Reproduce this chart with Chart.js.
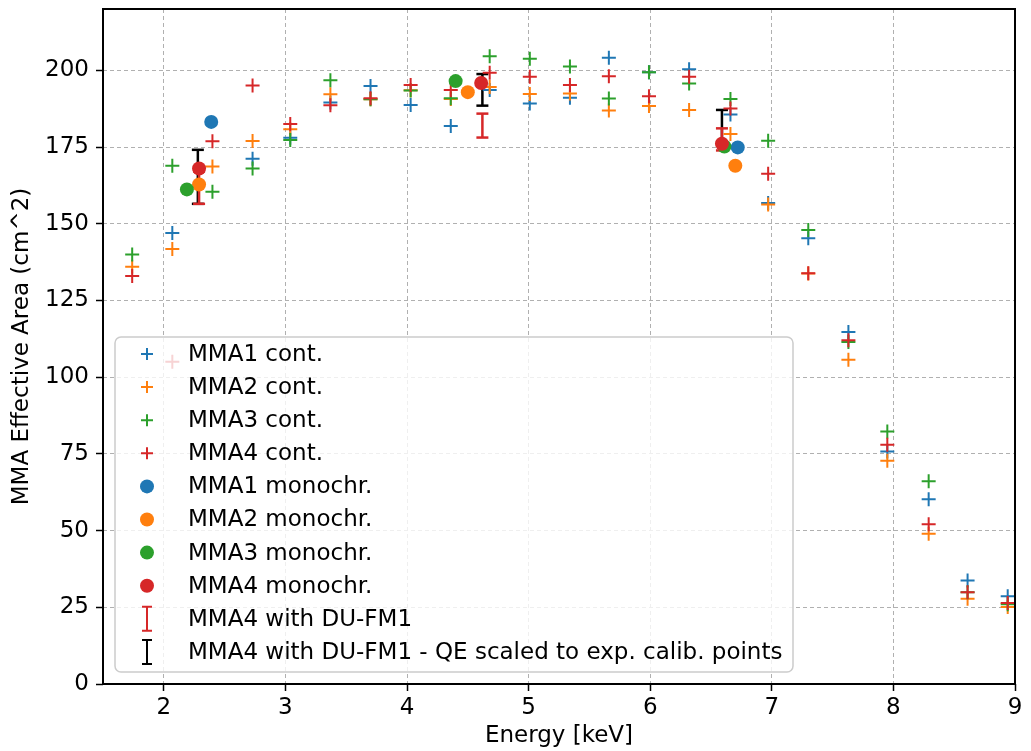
<!DOCTYPE html>
<html>
<head>
<meta charset="utf-8">
<title>MMA Effective Area</title>
<script src="https://cdn.jsdelivr.net/npm/chart.js@4.4.1/dist/chart.umd.min.js"></script>
<style>
  html, body { margin: 0; padding: 0; background: #fff; }
  #wrap { width: 1031px; height: 751px; }
</style>
</head>
<body>
<div id="wrap"><canvas id="myChart" width="1031" height="751"></canvas></div>
<script>
// energies of the continuum measurements [keV]
const energy = [1.74, 2.07, 2.40, 2.73, 3.04, 3.37, 3.70, 4.03, 4.36, 4.68, 5.01, 5.34,
  5.66, 5.99, 6.32, 6.66, 6.97, 7.30, 7.63, 7.95, 8.29, 8.61, 8.94];

const mma1Cont = [null, 147.0, null, 171.2, 178.0, 189.5, 194.9, 188.7, 181.9, 193.6, 189.2, 191.1,
  204.1, 199.4, 200.4, 185.6, 156.8, 145.3, 114.7, 75.8, 60.2, 33.7, 28.6];
const mma2Cont = [136.0, 141.8, 168.7, 177.0, 180.8, 192.2, 190.6, 193.5, 190.7, 194.6, 192.3, 192.5,
  186.9, 188.4, 187.1, 179.3, 156.3, 133.8, 105.7, 72.8, 49.0, 27.8, 25.1];
const mma3Cont = [140.0, 168.9, 160.4, 168.0, 177.3, 196.8, 190.6, 193.4, 190.9, 204.6, 203.8, 201.3,
  190.8, 199.4, 195.7, 190.7, 177.1, 148.0, 111.5, 82.3, 66.1, 29.9, 26.0];
const mma4Cont = [133.0, 105.0, 176.9, 195.1, 182.5, 188.6, 190.9, 195.2, 193.6, 199.2, 197.9, 195.2,
  198.1, 191.6, 197.9, 187.6, 166.3, 133.9, 112.0, 78.0, 52.1, 29.9, 26.4];

// monochromatic calibration points
const mma1MonoX = [2.39, 6.72];
const mma1MonoY = [183.2, 174.9];
const mma2MonoX = [2.29, 4.50, 6.70];
const mma2MonoY = [162.8, 192.9, 168.9];
const mma3MonoX = [2.19, 4.40, 6.61];
const mma3MonoY = [161.2, 196.5, 175.2];
const mma4MonoX = [2.29, 4.61, 6.59];
const mma4MonoY = [168.0, 195.9, 176.1];

// MMA4 with DU-FM1 (error bars)
const fm1X = [2.29, 4.62, 6.59];
const fm1Low = [156.5, 178.1, 173.9];
const fm1High = [167.0, 185.9, 181.1];
const fm1QeX = [2.28, 4.62, 6.59];
const fm1QeLow = [156.5, 188.5, 176.7];
const fm1QeHigh = [174.1, 198.8, 187.1];

const xTicks = [2, 3, 4, 5, 6, 7, 8, 9];
const yTicks = [0, 25, 50, 75, 100, 125, 150, 175, 200];

const BLUE = "#1f77b4";
const ORANGE = "#ff7f0e";
const GREEN = "#2ca02c";
const RED = "#d62728";
const FONT = "DejaVu Sans";

function toPoints(xs, ys) {
  return xs.map((x, i) => ({ x: x, y: ys[i] }));
}

function errorBarPoints(xs, lows, highs) {
  const pts = [];
  xs.forEach((x, i) => {
    pts.push({ x: x, y: lows[i] }, { x: x, y: highs[i] }, { x: x, y: null });
  });
  return pts;
}

function contSet(label, ys, color, order) {
  return {
    label: label,
    kind: "cross",
    data: toPoints(energy, ys),
    pointStyle: "cross",
    pointRadius: 7,
    pointBorderWidth: 2,
    borderColor: color,
    backgroundColor: color,
    showLine: false,
    order: order,
  };
}

function monoSet(label, xs, ys, color, order) {
  return {
    label: label,
    kind: "dot",
    data: toPoints(xs, ys),
    pointStyle: "circle",
    pointRadius: 7,
    pointBorderWidth: 0,
    borderColor: color,
    backgroundColor: color,
    showLine: false,
    order: order,
  };
}

function errSet(label, xs, lows, highs, color, order) {
  return {
    label: label,
    kind: "bar",
    data: errorBarPoints(xs, lows, highs),
    showLine: true,
    spanGaps: false,
    borderColor: color,
    backgroundColor: color,
    borderWidth: 2.5,
    pointStyle: "line",
    pointRadius: 6,
    pointBorderWidth: 2.5,
    order: order,
  };
}

// frame + legend box in the matplotlib style
const boxLegend = {
  id: "boxLegend",
  afterDatasetsDraw(chart) {
    const { ctx, chartArea } = chart;
    ctx.save();
    ctx.strokeStyle = "#000";
    ctx.lineWidth = 2;
    ctx.strokeRect(chartArea.left, chartArea.top,
      chartArea.right - chartArea.left, chartArea.bottom - chartArea.top);

    const w = 678, h = 335;
    const x0 = chartArea.left + 12;
    const y0 = chartArea.bottom - 12 - h;
    ctx.beginPath();
    ctx.roundRect(x0, y0, w, h, 6);
    ctx.fillStyle = "rgba(255,255,255,0.8)";
    ctx.fill();
    ctx.strokeStyle = "#cccccc";
    ctx.lineWidth = 1.5;
    ctx.stroke();

    ctx.font = "23px '" + FONT + "'";
    ctx.textBaseline = "middle";
    const mx = x0 + 32;
    chart.data.datasets.forEach((ds, i) => {
      const cy = y0 + 17 + i * 33.1;
      ctx.strokeStyle = ds.borderColor;
      ctx.fillStyle = ds.borderColor;
      if (ds.kind === "cross") {
        ctx.lineWidth = 2;
        ctx.beginPath();
        ctx.moveTo(mx - 6, cy); ctx.lineTo(mx + 6, cy);
        ctx.moveTo(mx, cy - 6); ctx.lineTo(mx, cy + 6);
        ctx.stroke();
      } else if (ds.kind === "dot") {
        ctx.beginPath();
        ctx.arc(mx, cy, 7, 0, Math.PI * 2);
        ctx.fill();
      } else {
        ctx.lineWidth = 2;
        ctx.beginPath();
        ctx.moveTo(mx, cy - 12); ctx.lineTo(mx, cy + 12);
        ctx.moveTo(mx - 5, cy - 12); ctx.lineTo(mx + 5, cy - 12);
        ctx.moveTo(mx - 5, cy + 12); ctx.lineTo(mx + 5, cy + 12);
        ctx.stroke();
      }
      ctx.fillStyle = "#000";
      ctx.fillText(ds.label, x0 + 73, cy + 1);
    });
    ctx.restore();
  },
};

const gridOpts = {
  color: "#b0b0b0",
  lineWidth: 1,
  tickLength: 7,
  tickColor: "#000",
  tickWidth: 1.5,
  tickBorderDash: [],
};

new Chart(document.querySelector("#myChart"), {
  type: "scatter",
  data: {
    datasets: [
      contSet("MMA1 cont.", mma1Cont, BLUE, 8),
      contSet("MMA2 cont.", mma2Cont, ORANGE, 7),
      contSet("MMA3 cont.", mma3Cont, GREEN, 6),
      contSet("MMA4 cont.", mma4Cont, RED, 5),
      monoSet("MMA1 monochr.", mma1MonoX, mma1MonoY, BLUE, 4),
      monoSet("MMA2 monochr.", mma2MonoX, mma2MonoY, ORANGE, 3),
      monoSet("MMA3 monochr.", mma3MonoX, mma3MonoY, GREEN, 2),
      monoSet("MMA4 monochr.", mma4MonoX, mma4MonoY, RED, 1),
      errSet("MMA4 with DU-FM1", fm1X, fm1Low, fm1High, RED, 9),
      errSet("MMA4 with DU-FM1 - QE scaled to exp. calib. points", fm1QeX, fm1QeLow, fm1QeHigh, "#000", 10),
    ],
  },
  options: {
    responsive: false,
    animation: false,
    layout: { padding: { top: 0, right: 16, left: 0, bottom: 0 } },
    plugins: {
      legend: { display: false },
      tooltip: { enabled: false },
    },
    scales: {
      x: {
        type: "linear",
        min: 1.5,
        max: 9,
        afterBuildTicks: (scale) => { scale.ticks = xTicks.map((v) => ({ value: v })); },
        afterFit: (scale) => {
          scale.height = 67;
          scale.paddingLeft = 0;
          scale.paddingRight = 0;
        },
        grid: gridOpts,
        border: { display: false, dash: [4, 3] },
        ticks: { color: "#000", padding: 3, font: { family: FONT, size: 23 } },
        title: {
          display: true,
          text: "Energy [keV]",
          color: "#000",
          font: { family: FONT, size: 23 },
          padding: { top: 0, bottom: 1 },
        },
      },
      y: {
        type: "linear",
        min: 0,
        max: 220,
        afterBuildTicks: (scale) => { scale.ticks = yTicks.map((v) => ({ value: v })); },
        afterFit: (scale) => {
          scale.width = 103;
          scale.paddingTop = 0;
          scale.paddingBottom = 0;
        },
        grid: gridOpts,
        border: { display: false, dash: [4, 3] },
        ticks: { color: "#000", padding: 7, font: { family: FONT, size: 23 } },
        title: {
          display: true,
          text: "MMA Effective Area (cm^2)",
          color: "#000",
          font: { family: FONT, size: 23 },
          padding: { top: 8, bottom: 0 },
        },
      },
    },
  },
  plugins: [boxLegend],
});
</script>
</body>
</html>
